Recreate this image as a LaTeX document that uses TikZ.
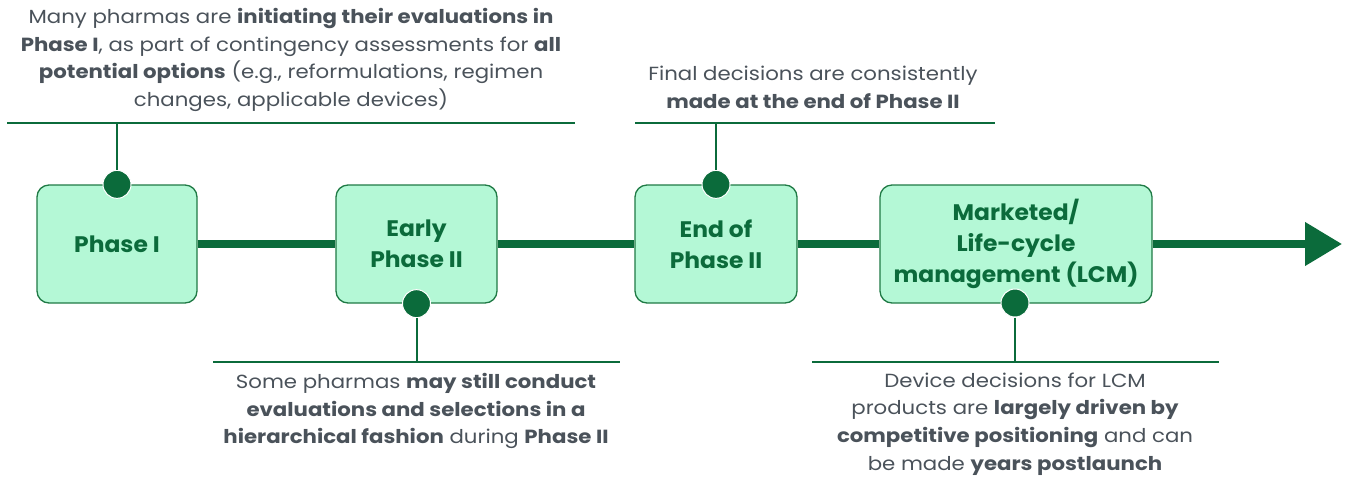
\documentclass[tikz,border=0pt]{standalone}
\usepackage{fontspec}
\setmainfont{Poppins}
\newfontfamily\notefont{Poppins}[FakeStretch=1.12]
\newfontfamily\stagefont{Poppins}[FakeStretch=1.04]
\usetikzlibrary{arrows.meta}
\definecolor{leaf}{HTML}{0B6B3B}
\definecolor{mint}{HTML}{B4F8D6}
\definecolor{rim}{HTML}{1F7A45}
\definecolor{ink}{HTML}{4A525A}
\tikzset{
  stage/.style={draw=rim, line width=1.3pt, fill=mint, rounded corners=12pt,
    minimum height=118pt, align=center, text=leaf, inner sep=0pt,
    font=\stagefont\fontsize{22.5}{31}\selectfont\bfseries},
  spine/.style={draw=leaf, line width=7.5pt},
  pin/.style={circle, fill=leaf, draw=white, line width=1pt, minimum size=28pt, inner sep=0pt},
  bar/.style={draw=leaf, line width=2.8pt},
  stem/.style={draw=leaf, line width=2pt},
  note/.style={align=center, text=ink, inner sep=0pt, font=\notefont\fontsize{19}{27.7}\selectfont}
}
\begin{document}
\begin{tikzpicture}[x=1pt, y=-1pt]
\useasboundingbox (0,0) rectangle (1346,480);

% stages
\node[stage, minimum width=160pt] (p1) at (117,244) {Phase I};
\node[stage, minimum width=161pt] (p2) at (416.5,244) {Early\\Phase II};
\node[stage, minimum width=162pt] (p3) at (716,244) {End of\\Phase II};
\node[stage, minimum width=272pt] (p4) at (1016,244) {Marketed/\\Life-cycle\\management (LCM)};
\coordinate (tip) at (1342,244);

% timeline
\path[spine] (p1.east) -- (p2.west);
\path[spine] (p2.east) -- (p3.west);
\path[spine] (p3.east) -- (p4.west);
\draw[leaf, line width=7.5pt, -{Triangle[length=37pt,width=42pt]}] (p4.east) -- (tip);

% callout bars
\coordinate (b1l) at (7,123);   \coordinate (b1r) at (575,123);
\coordinate (b2l) at (213,362); \coordinate (b2r) at (620,362);
\coordinate (b3l) at (635,123); \coordinate (b3r) at (995,123);
\coordinate (b4l) at (812,362); \coordinate (b4r) at (1219,362);
\path[bar] (b1l) -- (b1r);
\path[bar] (b2l) -- (b2r);
\path[bar] (b3l) -- (b3r);
\path[bar] (b4l) -- (b4r);

% pins and stems
\node[pin] (d1) at (p1.north) {};
\node[pin] (d2) at (p2.south) {};
\node[pin] (d3) at (p3.north) {};
\node[pin] (d4) at (1015,303) {};
\path[stem] (d1.north) -- (d1 |- b1l);
\path[stem] (d2.south) -- (d2 |- b2l);
\path[stem] (d3.north) -- (d3 |- b3l);
\path[stem] (d4.south) -- (d4 |- b4l);

% notes
\node[note] (n1) at (291,60) {Many pharmas are \textbf{initiating their evaluations in}\\\textbf{Phase I}, as part of contingency assessments for \textbf{all}\\\textbf{potential options} (e.g., reformulations, regimen\\changes, applicable devices)};
\node[note] (n3) at (813,87) {Final decisions are consistently\\\textbf{made at the end of Phase II}};
\node[note] (n2) at (416,411) {Some pharmas \textbf{may still conduct}\\\textbf{evaluations and selections in a}\\\textbf{hierarchical fashion} during \textbf{Phase II}};
\node[note] (n4) at (1015,424) {Device decisions for LCM\\products are \textbf{largely driven by}\\\textbf{competitive positioning} and can\\be made \textbf{years postlaunch}};
\end{tikzpicture}
\end{document}
